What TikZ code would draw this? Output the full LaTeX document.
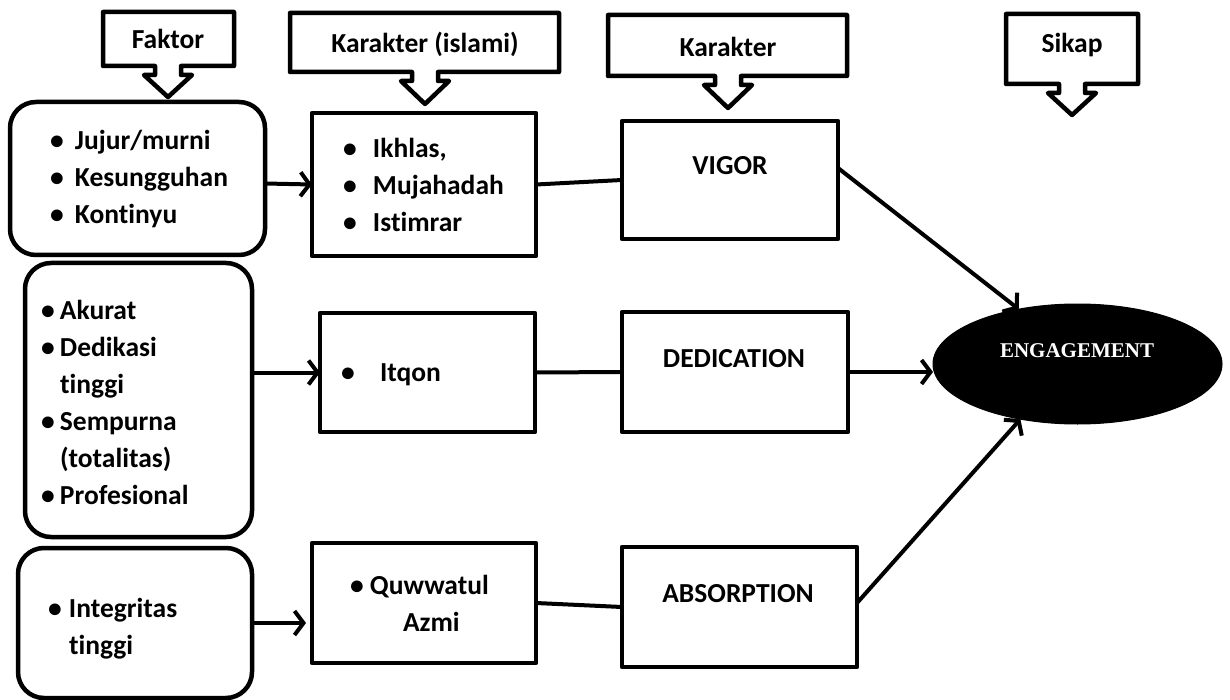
\documentclass[tikz,border=0pt]{standalone}
\usepackage{fontspec}
\setmainfont{Carlito}[Ligatures=NoCommon, BoldFont={Carlito Bold}]
\newfontfamily\serifbold{Liberation Serif}
\usetikzlibrary{arrows.meta,shapes.geometric}

% bullet item with a fixed-width bullet column, and a continuation line
\newcommand\itm[2]{\strut\makebox[#1][l]{\textbullet}#2}
\newcommand\cont[2]{\strut\hspace*{#1}#2}
% header box with a down-pointing arrow: x1 y1 x2 y2 centre-x shoulder-y tip-y
\newcommand\downcallout[7]{%
  \draw[frame] (#1,#2) -- (#3,#2) -- (#3,#4) -- (#5+13,#4) -- (#5+13,#6)
    -- (#5+24,#6) -- (#5,#7) -- (#5-24,#6) -- (#5-13,#6) -- (#5-13,#4)
    -- (#1,#4) -- cycle;}

\begin{document}
\begin{tikzpicture}[x=1pt,y=-1pt,
  every node/.style={inner sep=0pt, outer sep=0pt},
  frame/.style={draw, line width=4.5pt, line join=round},
  rbox/.style={frame, rectangle, rounded corners=26pt},
  sbox/.style={frame, rectangle},
  txt/.style={font=\fontsize{27.5}{37}\selectfont\bfseries, align=left, anchor=north west},
  lbl/.style={font=\fontsize{27.5}{33}\selectfont\bfseries, anchor=base},
  link/.style={line width=4pt, line cap=round, line join=round},
  arr/.style={link, -{Straight Barb[length=9pt,width=24pt]}},
]
\useasboundingbox (0,0) rectangle (1230,700);

% column headers
\downcallout{103}{12}{234}{66}{168}{75}{97}
\node[lbl] (h-faktor) at (168,49) {Faktor};
\downcallout{290}{13}{559}{72}{425}{81}{104}
\node[lbl] (h-islami) at (425,53) {Karakter (islami)};
\downcallout{608}{15}{847}{76}{728}{85}{108}
\node[lbl] (h-karakter) at (728,57) {Karakter};
\downcallout{1006}{14}{1138}{84}{1072}{93}{115}
\node[lbl] (h-sikap) at (1072,53) {Sikap};

% factor boxes
\node[rbox, minimum width=255pt, minimum height=153pt] (a1) at (137.5,178.5) {};
\node[rbox, minimum width=227pt, minimum height=274pt] (a2) at (138.5,400) {};
\node[rbox, minimum width=234pt, minimum height=150pt] (a3) at (135,623) {};
\node[txt] (ta1) at (50,124) {\itm{25pt}{Jujur/murni}\\\itm{25pt}{Kesungguhan}\\\itm{25pt}{Kontinyu}};
\node[txt] (ta2) at (41,294) {\itm{19pt}{Akurat}\\\itm{19pt}{Dedikasi}\\\cont{19pt}{tinggi}\\\itm{19pt}{Sempurna}\\\cont{19pt}{(totalitas)}\\\itm{19pt}{Profesional}};
\node[txt] (ta3) at (48,592) {\itm{21pt}{Integritas}\\\cont{21pt}{tinggi}};

% islamic character boxes
\node[sbox, minimum width=224pt, minimum height=143pt] (b1) at (424,184.5) {};
\node[sbox, minimum width=215pt, minimum height=119pt] (b2) at (427.5,372.5) {};
\node[sbox, minimum width=224pt, minimum height=120pt] (b3) at (424,603) {};
\node[txt] (tb1) at (343,132) {\itm{30pt}{Ikhlas,}\\\itm{30pt}{Mujahadah}\\\itm{30pt}{Istimrar}};
\node[txt] (tb2) at (341,356) {\itm{39pt}{Itqon}};
\node[txt] (tb3) at (350,569) {\itm{20pt}{Quwwatul}\\\cont{53pt}{Azmi}};

% character boxes
\node[sbox, minimum width=216pt, minimum height=118pt] (c1) at (730,180) {};
\node[sbox, minimum width=226pt, minimum height=120pt] (c2) at (735,372) {};
\node[sbox, minimum width=235pt, minimum height=120pt] (c3) at (739.5,607) {};
\node[lbl] (tc1) at (730,175) {VIGOR};
\node[lbl] (tc2) at (734,367) {DEDICATION};
\node[lbl] (tc3) at (738,602) {ABSORPTION};

% attitude
\node[ellipse, fill=black, draw, line width=1pt, minimum width=289pt, minimum height=120pt] (e) at (1077.5,364) {};
\node[anchor=base, text=white, font=\serifbold\bfseries\fontsize{21}{25}\selectfont] (te) at (1077,357) {ENGAGEMENT};

% connectors
\draw[arr] ([yshift=-5pt]a1.east) -- (b1.west);
\draw[link] (b1.east) -- (c1.west);
\draw[arr] ([yshift=12pt]c1.east) -- (e.137);

\draw[arr] (a2.east |- b2.west) -- (b2.west);
\draw[link] (b2.east) -- (c2.west);
\draw[arr] (c2.east) -- (c2.east -| e.west);

\draw[arr] (a3.east) -- ([xshift=-6pt]a3.east -| b3.west);
\draw[link] (b3.east) -- (c3.west);
\draw[arr] ([yshift=4pt]c3.east) -- (e.224);
\end{tikzpicture}
\end{document}
